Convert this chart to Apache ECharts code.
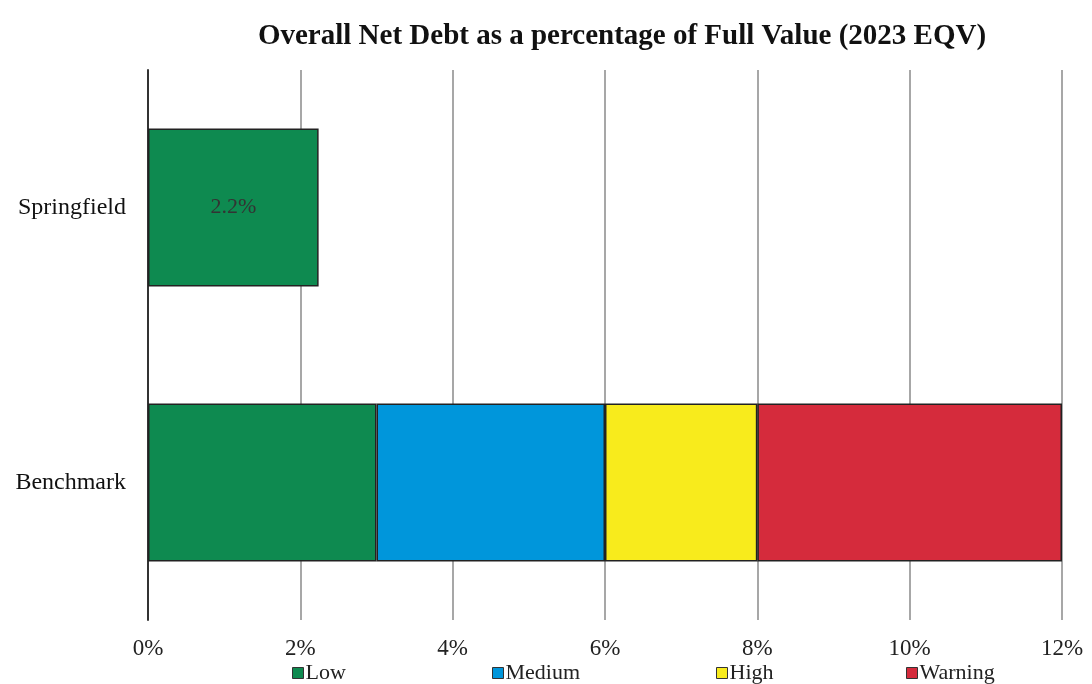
<!DOCTYPE html>
<html><head><meta charset="utf-8">
<script src="https://cdn.jsdelivr.net/npm/echarts@6/dist/echarts.min.js"></script>
<style>html,body{margin:0;padding:0;background:#fff}#c{width:1092px;height:684px}</style>
</head><body><div id="c"></div>
<script>
const categories = ['Springfield', 'Benchmark'];
const seriesNames = ['Low', 'Medium', 'High', 'Warning'];
const lowValues = [2.24, 3];
const mediumValues = [0, 3];
const highValues = [0, 2];
const warningValues = [0, 4];
const xTicks = [0, 2, 4, 6, 8, 10, 12];
const colors = ['#0e8a50', '#0096db', '#f8eb1c', '#d52b3c'];
const legendLefts = [292, 492, 716, 906];

const font = '"Liberation Serif", "DejaVu Serif", serif';
const valueSets = [lowValues, mediumValues, highValues, warningValues];

const series = seriesNames.map((name, i) => ({
  name: name,
  type: 'bar',
  stack: 'total',
  barWidth: '57.5%',
  itemStyle: { color: colors[i], borderColor: '#222', borderWidth: 1.5 },
  emphasis: { disabled: true },
  data: valueSets[i].map((v, j) => {
    const item = { value: v === 0 ? null : v };
    if (i === 0 && j === 0) {
      item.label = { show: true, position: 'inside', formatter: v.toFixed(1) + '%', color: '#333', fontFamily: font, fontSize: 22 };
    }
    return item;
  })
}));

const legends = seriesNames.map((name, i) => ({
  data: [name],
  left: legendLefts[i],
  top: 662,
  icon: 'rect',
  itemWidth: 11,
  itemHeight: 11,
  itemGap: 4,
  itemStyle: { borderColor: '#333', borderWidth: 1 },
  textStyle: { fontFamily: font, fontSize: 22, color: '#222', padding: [0, 0, 0, -3] },
  padding: 0
}));

const chart = echarts.init(document.getElementById('c'));
chart.setOption({
  animation: false,
  title: {
    text: 'Overall Net Debt as a percentage of Full Value (2023 EQV)',
    left: 617, top: 17, textAlign: 'center',
    textStyle: { fontFamily: font, fontSize: 29, fontWeight: 'bold', color: '#111' }
  },
  legend: legends,
  grid: { left: 148, right: 30, top: 70, bottom: 64 },
  xAxis: {
    type: 'value', min: xTicks[0], max: xTicks[xTicks.length - 1], interval: 2,
    axisLine: { show: false }, axisTick: { show: false },
    splitLine: { show: true, lineStyle: { color: '#8a8a8a', width: 1.5 } },
    axisLabel: { formatter: '{value}%', margin: 17, fontFamily: font, fontSize: 23, color: '#222' }
  },
  yAxis: {
    type: 'category', data: categories, inverse: true,
    axisLine: { show: true, lineStyle: { color: '#333', width: 2 } },
    axisTick: { show: false },
    axisLabel: { margin: 22, fontFamily: font, fontSize: 24, color: '#111' }
  },
  series: series
});
</script></body></html>
